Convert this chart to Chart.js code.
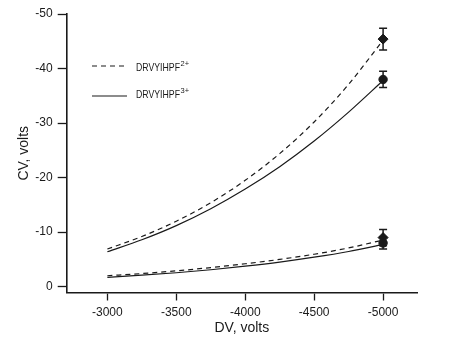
<!DOCTYPE html>
<html>
<head>
<meta charset="utf-8">
<script src="https://cdn.jsdelivr.net/npm/chart.js@4/dist/chart.umd.min.js"></script>
<style>
  html, body { margin: 0; padding: 0; background: #fff; }
</style>
</head>
<body>
<canvas id="cvChart" width="463" height="348"></canvas>
<script>
// values (DV and CV are both negative)
const dvVolts = [-3000, -3250, -3500, -3750, -4000, -4250, -4500, -4750, -5000];
const cvUpper2 = [-6.9, -9.2, -12.0, -15.4, -19.5, -24.4, -30.2, -37.1, -45.2];
const cvUpper3 = [-6.4, -8.6, -11.2, -14.3, -17.9, -22.0, -26.7, -32.0, -37.8];
const cvLower2 = [-2.0, -2.4, -2.9, -3.5, -4.2, -5.0, -5.95, -7.1, -8.55];
const cvLower3 = [-1.7, -2.1, -2.55, -3.1, -3.75, -4.5, -5.4, -6.45, -7.75];

// measured points at -5000 V with error bars
const diamondCV = [-45.4, -9.0];
const diamondErr = [2.0, 1.5];
const circleCV = [-38.0, -8.0];
const circleErr = [1.5, 1.1];
const measuredDV = -5000;

const xTicks = [-3000, -3500, -4000, -4500, -5000];
const yTicks = [0, -10, -20, -30, -40, -50];

const legendNames = ["DRVYIHPF", "DRVYIHPF"];
const legendCharges = ["2+", "3+"];

const ink = "#1a1a1a";
const fontFamily = "'Liberation Sans', Arial, Helvetica, sans-serif";

function toPoints(ys) {
  return dvVolts.map((x, i) => ({ x: x, y: ys[i] }));
}

function curve(label, ys, dashed) {
  return {
    label: label,
    data: toPoints(ys),
    showLine: true,
    borderColor: ink,
    borderWidth: 1.2,
    borderDash: dashed ? [5, 4] : [],
    pointRadius: 0,
    cubicInterpolationMode: "monotone",
    fill: false,
  };
}

const errorBars = {
  id: "errorBars",
  afterDatasetsDraw(chart) {
    const ctx = chart.ctx;
    const xs = chart.scales.x;
    const ys = chart.scales.y;
    const px = xs.getPixelForValue(measuredDV);
    ctx.save();
    ctx.strokeStyle = ink;
    ctx.lineWidth = 1.5;
    const bars = [];
    diamondCV.forEach((v, i) => bars.push([v, diamondErr[i]]));
    circleCV.forEach((v, i) => bars.push([v, circleErr[i]]));
    bars.forEach(([v, e]) => {
      const top = ys.getPixelForValue(v - e);
      const bot = ys.getPixelForValue(v + e);
      ctx.beginPath();
      ctx.moveTo(px, top);
      ctx.lineTo(px, bot);
      ctx.moveTo(px - 4, top);
      ctx.lineTo(px + 4, top);
      ctx.moveTo(px - 4, bot);
      ctx.lineTo(px + 4, bot);
      ctx.stroke();
    });
    ctx.restore();
  },
};

// legend drawn inside the plot, with superscript charge states
const insetLegend = {
  id: "insetLegend",
  afterDraw(chart) {
    const ctx = chart.ctx;
    const lineRows = [66, 96];
    const textRows = [67.5, 94.5];
    ctx.save();
    ctx.strokeStyle = ink;
    ctx.fillStyle = ink;
    ctx.lineWidth = 1.2;
    lineRows.forEach((y, i) => {
      ctx.setLineDash(i === 0 ? [5, 4] : []);
      ctx.beginPath();
      ctx.moveTo(92, y);
      ctx.lineTo(127, y);
      ctx.stroke();
      ctx.setLineDash([]);
      const ty = textRows[i];
      ctx.textBaseline = "middle";
      ctx.font = "11.5px " + fontFamily;
      const w = Math.min(ctx.measureText(legendNames[i]).width, 44);
      ctx.fillText(legendNames[i], 136, ty, 44);
      ctx.font = "7.5px " + fontFamily;
      ctx.fillText(legendCharges[i], 136 + w + 0.5, ty - 4, 9);
    });
    ctx.restore();
  },
};

new Chart(document.getElementById("cvChart"), {
  type: "scatter",
  data: {
    datasets: [
      curve("DRVYIHPF2+ high", cvUpper2, true),
      curve("DRVYIHPF3+ high", cvUpper3, false),
      curve("DRVYIHPF2+ low", cvLower2, true),
      curve("DRVYIHPF3+ low", cvLower3, false),
      {
        label: "2+ measured",
        data: diamondCV.map((v) => ({ x: measuredDV, y: v })),
        pointStyle: "rectRot",
        pointRadius: 5,
        backgroundColor: ink,
        borderColor: ink,
        borderWidth: 1,
      },
      {
        label: "3+ measured",
        data: circleCV.map((v) => ({ x: measuredDV, y: v })),
        pointStyle: "circle",
        pointRadius: 4.2,
        backgroundColor: ink,
        borderColor: ink,
        borderWidth: 1,
      },
    ],
  },
  options: {
    responsive: false,
    animation: false,
    devicePixelRatio: 1,
    layout: { padding: { top: 14, right: 46, bottom: 0, left: 0 } },
    plugins: {
      legend: { display: false },
      tooltip: { enabled: false },
    },
    scales: {
      x: {
        type: "linear",
        reverse: true,
        min: -5246,
        max: -2705,
        afterBuildTicks: (s) => { s.ticks = xTicks.map((v) => ({ value: v })); },
        afterFit: (s) => { s.height = 55.5; },
        grid: { drawOnChartArea: false, color: ink, tickLength: 8, tickWidth: 1.3 },
        border: { color: ink, width: 1.6 },
        ticks: {
          color: ink,
          padding: 5,
          font: { family: fontFamily, size: 12 },
          callback: (v) => String(v),
        },
        title: {
          display: true,
          text: "DV, volts",
          color: ink,
          font: { family: fontFamily, size: 14 },
          padding: { top: 0, bottom: 11 },
        },
      },
      y: {
        type: "linear",
        reverse: true,
        min: -50,
        max: 1.07,
        afterBuildTicks: (s) => { s.ticks = yTicks.map((v) => ({ value: v })); },
        afterFit: (s) => { s.width = 66.7; },
        grid: { drawOnChartArea: false, color: ink, tickLength: 9, tickWidth: 1.3 },
        border: { color: ink, width: 1.6 },
        ticks: {
          color: ink,
          padding: 5,
          font: { family: fontFamily, size: 12 },
          callback: (v) => String(v),
        },
        title: {
          display: true,
          text: "CV, volts",
          color: ink,
          font: { family: fontFamily, size: 14 },
          padding: { top: 16, bottom: 0 },
        },
      },
    },
  },
  plugins: [errorBars, insetLegend],
});
</script>
</body>
</html>
